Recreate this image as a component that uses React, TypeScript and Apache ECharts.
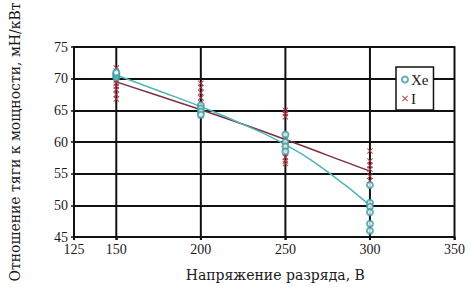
import React, { useEffect, useRef } from "react";
import * as echarts from "echarts";

// Measured points
const xeVoltage = [150, 150, 150, 150, 200, 200, 200, 200, 250, 250, 250, 250, 300, 300, 300, 300, 300, 300];
const xeRatio = [70.2, 70.5, 70.8, 71.0, 65.8, 65.3, 64.8, 64.3, 61.2, 60.0, 59.3, 58.5, 53.2, 50.4, 49.8, 48.9, 47.1, 46.0];

const iVoltage = [
  150, 150, 150, 150, 150, 150, 150, 150, 150,
  200, 200, 200, 200, 200, 200, 200, 200,
  250, 250, 250, 250, 250, 250, 250, 250, 250, 250,
  300, 300, 300, 300, 300, 300,
];
const iRatio = [
  71.7, 71.2, 70.5, 69.8, 69.3, 68.8, 68.3, 67.5, 66.8,
  69.3, 68.6, 67.8, 67.0, 66.2, 65.5, 64.8, 64.2,
  65.0, 64.5, 64.0, 60.3, 59.6, 59.0, 58.3, 57.6, 57.0, 56.6,
  58.6, 57.0, 56.3, 55.7, 54.6, 53.9,
];

// Fit curves
const fitVoltage = [150, 175, 200, 225, 250, 275, 300];
const xeFit = [70.6, 68.1, 65.6, 62.8, 59.6, 55.3, 50.0];
const iFit = [69.5, 67.3, 65.1, 62.8, 60.4, 57.9, 55.4];

// Axis ticks
const xTickValues = [125, 150, 200, 250, 300, 350];
const xGridValues = [125, 150, 200, 250, 300, 350];
const yMin = 45;
const yMax = 75;

const FONT = "Liberation Serif";
const NAME_FONT = "DejaVu Serif";
const CROSS =
  "path://M0,1.2 L1.2,0 L5,3.8 L8.8,0 L10,1.2 L6.2,5 L10,8.8 L8.8,10 L5,6.2 L1.2,10 L0,8.8 L3.8,5 Z";

export default function App() {
  const ref = useRef<HTMLDivElement>(null);
  useEffect(() => {
    if (!ref.current) return;
    const chart = echarts.init(ref.current, null, { renderer: "svg" });
    const gridColor = "#111111";
    chart.setOption({
      animation: false,
      backgroundColor: "#ffffff",
      textStyle: { fontFamily: FONT },
      grid: { left: 72, right: 13, top: 10, bottom: 49 },
      legend: {
        left: 396,
        top: 67,
        orient: "vertical",
        data: ["Xe", "I"],
        backgroundColor: "#ffffff",
        borderColor: "#111111",
        borderWidth: 1.5,
        borderRadius: 0,
        padding: [5, 5, 4, 5],
        itemWidth: 6,
        itemHeight: 6,
        itemGap: 4,
        textStyle: { fontFamily: FONT, fontSize: 15, color: "#1a1a1a", padding: [0, 0, 0, -2] },
      },
      xAxis: {
        type: "value",
        min: 125,
        max: 350,
        interval: 25,
        name: "Напряжение разряда, В",
        nameLocation: "middle",
        nameGap: 31,
        nameTextStyle: { fontFamily: NAME_FONT, fontSize: 14, color: "#1a1a1a", padding: [0, 0, 0, 22] },
        axisLine: { show: true, lineStyle: { color: gridColor, width: 2 } },
        axisTick: { show: true, length: 3, customValues: xTickValues, lineStyle: { color: gridColor, width: 1.5 } },
        axisLabel: { customValues: xTickValues, fontFamily: FONT, fontSize: 14, color: "#1a1a1a", margin: 5 },
        splitLine: { show: false },
      },
      yAxis: {
        type: "value",
        min: yMin,
        max: yMax,
        interval: 5,
        name: "Отношение тяги к мощности, мН/кВт",
        nameLocation: "middle",
        nameGap: 52,
        nameTextStyle: { fontFamily: NAME_FONT, fontSize: 14, color: "#1a1a1a" },
        axisLine: { show: true, onZero: false, lineStyle: { color: gridColor, width: 2 } },
        axisTick: { show: true, length: 3, lineStyle: { color: gridColor, width: 1.5 } },
        axisLabel: { fontFamily: FONT, fontSize: 14, color: "#1a1a1a", margin: 6 },
        splitLine: { show: true, lineStyle: { color: gridColor, width: 2 } },
      },
      series: [
        {
          name: "vgrid",
          type: "custom",
          silent: true,
          z: 1,
          clip: false,
          data: xGridValues.map((v) => [v]),
          encode: { x: 0 },
          renderItem: (params: any, api: any) => {
            const v = api.value(0);
            const top = api.coord([v, yMax]);
            const bottom = api.coord([v, yMin]);
            return {
              type: "rect",
              shape: { x: top[0] - 1, y: top[1] - 1, width: 2, height: bottom[1] - top[1] + 4 },
              style: { fill: gridColor },
            };
          },
        },
        {
          name: "I fit",
          type: "line",
          data: fitVoltage.map((v, i) => [v, iFit[i]]),
          smooth: true,
          showSymbol: false,
          symbol: "none",
          lineStyle: { color: "#7d2f42", width: 1.5 },
          z: 3,
        },
        {
          name: "Xe fit",
          type: "line",
          data: fitVoltage.map((v, i) => [v, xeFit[i]]),
          smooth: true,
          showSymbol: false,
          symbol: "none",
          lineStyle: { color: "#4fb5b8", width: 1.5 },
          z: 3,
        },
        {
          name: "I",
          type: "scatter",
          data: iVoltage.map((v, i) => [v, iRatio[i]]),
          symbol: CROSS,
          symbolSize: 6,
          itemStyle: { color: "#b03545", opacity: 0.9 },
          z: 4,
        },
        {
          name: "Xe",
          type: "scatter",
          data: xeVoltage.map((v, i) => [v, xeRatio[i]]),
          symbol: "emptyCircle",
          symbolSize: 6,
          itemStyle: { color: "#3a9ea3", borderWidth: 1.3 },
          z: 5,
        },
      ],
    });
    return () => chart.dispose();
  }, []);
  return <div ref={ref} style={{ width: 468, height: 287, position: "fixed", left: 0, top: 0 }} />;
}
